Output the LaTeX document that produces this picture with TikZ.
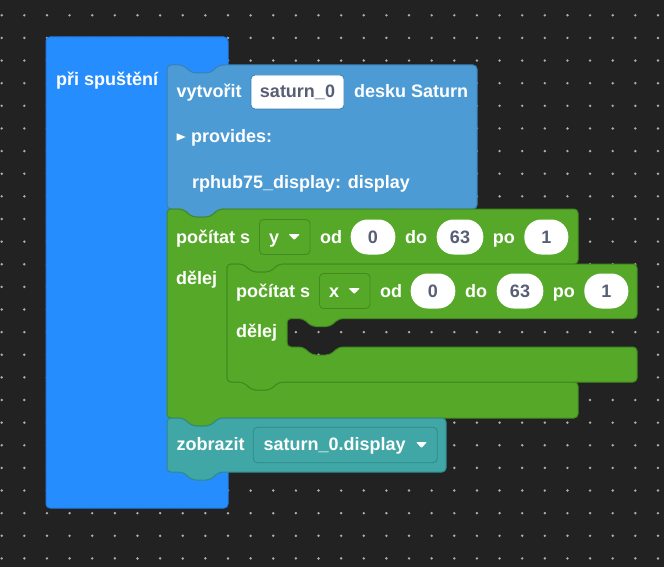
\documentclass[tikz,border=0pt]{standalone}
\usepackage{fontspec}
\setmainfont{Liberation Sans}
\definecolor{bg}{RGB}{34,34,34}
\definecolor{dotc}{RGB}{175,175,175}
\definecolor{hat}{RGB}{38,141,255}
\definecolor{hatb}{RGB}{32,124,228}
\definecolor{steel}{RGB}{76,155,212}
\definecolor{steelb}{RGB}{58,128,182}
\definecolor{grn}{RGB}{85,168,40}
\definecolor{grnb}{RGB}{66,138,30}
\definecolor{teal}{RGB}{64,166,166}
\definecolor{tealb}{RGB}{48,138,138}
\definecolor{fieldtxt}{RGB}{87,94,117}
\tikzset{
  lbl/.style={font=\bfseries\fontsize{18}{20}\selectfont, text=white, inner sep=0pt, anchor=base west},
  fld/.style={font=\bfseries\fontsize{18}{20}\selectfont, text=fieldtxt, inner sep=0pt, anchor=base},
  blk/.style={rounded corners=4pt, line width=1pt, line join=round},
  wbox/.style={draw=steelb, fill=white, rounded corners=4pt, inner sep=0pt, line width=0.8pt},
  oval/.style={fill=white, rounded corners=17pt, inner sep=0pt, minimum height=35pt},
  ddg/.style={draw=grnb, fill=grn, rounded corners=4pt, inner sep=0pt, line width=0.8pt, minimum width=50.5pt, minimum height=35pt},
  ddt/.style={draw=tealb, fill=teal, rounded corners=4pt, inner sep=0pt, line width=0.8pt, minimum width=184pt, minimum height=35.4pt},
  arr/.style={fill=white, rounded corners=1pt}
}
\newcommand\forrow[2]{%
  \node[lbl] (#1pocitat) at (176,243.5) {počítat s};
  \node[ddg] (#1dd) at (284.75,237) {};
  \node[lbl] (#1var) at (269,243.5) {#2};
  \fill[arr] (288.5,234) -- (300,234) -- (294.25,240) -- cycle;
  \node[lbl] (#1od) at (320,243.5) {od};
  \node[oval, minimum width=44.6pt] (#1oa) at (373,237) {};
  \node[fld] (#1ta) at (373,243.5) {0};
  \node[lbl] (#1do) at (405,243.5) {do};
  \node[oval, minimum width=46.6pt] (#1ob) at (460,237) {};
  \node[fld] (#1tb) at (460,243.5) {63};
  \node[lbl] (#1po) at (492.7,243.5) {po};
  \node[oval, minimum width=44pt] (#1oc) at (546.3,237) {};
  \node[fld] (#1tc) at (546.3,243.5) {1};
}
\begin{document}
\begin{tikzpicture}[x=1pt,y=-1pt]
\useasboundingbox (0,0) rectangle (664,567);
\fill[bg] (0,0) rectangle (664,567);
\foreach \i in {0,...,29} \foreach \j in {0,...,24}
  \fill[dotc] ({1.7+22.63*\i},{15.3+22.63*\j}) circle (1.35pt);

% hat block
\draw[blk, fill=hat, draw=hatb] (46,37) rectangle (228,508);
\node[lbl] (hatlbl) at (56,86) {při spuštění};

% create board block
\draw[blk, fill=steel, draw=steelb] (167,65) -- (183,65) -- (192,73) -- (210,73) -- (219,65) -- (477,65) -- (477,209) -- (219,209) -- (210,217) -- (192,217) -- (183,209) -- (167,209) -- cycle;
\node[lbl] (vyt) at (176.5,98) {vytvořit};
\node[wbox, minimum width=93pt, minimum height=34pt] (fbox) at (297.5,92) {};
\node[fld] (ftxt) at (297.5,98) {saturn\_0};
\node[lbl] (desku) at (354,98) {desku Saturn};
\fill[white] (176.7,133.3) -- (176.7,140.7) -- (185.7,137) -- cycle;
\node[lbl] (prov) at (191,142.5) {provides:};
\node[lbl] (rph) at (192,188.5) {rphub75\_display: display};

% outer loop
\draw[blk, fill=grn, draw=grnb] (167,209) -- (183,209) -- (192,217) -- (210,217) -- (219,209) -- (578,209) -- (578,264) -- (279,264) -- (270,272) -- (252,272) -- (243,264) -- (227,264) -- (227,382) -- (243,382) -- (252,390) -- (270,390) -- (279,382) -- (578,382) -- (578,418) -- (219,418) -- (210,426) -- (192,426) -- (183,418) -- (167,418) -- cycle;
\forrow{o}{y}
\node[lbl] (odelej) at (176,284.5) {dělej};

% inner loop
\draw[blk, fill=grn, draw=grnb] (227,264) -- (243,264) -- (252,272) -- (270,272) -- (279,264) -- (637,264) -- (637,318.5) -- (339,318.5) -- (330,326.5) -- (312,326.5) -- (303,318.5) -- (287,318.5) -- (287,347) -- (303,347) -- (312,355) -- (330,355) -- (339,347) -- (637,347) -- (637,382) -- (279,382) -- (270,390) -- (252,390) -- (243,382) -- (227,382) -- cycle;
\begin{scope}[shift={(60,54)}]
\forrow{i}{x}
\end{scope}
\node[lbl] (idelej) at (236,337.5) {dělej};

% show block
\draw[blk, fill=teal, draw=tealb] (167,418) -- (183,418) -- (192,426) -- (210,426) -- (219,418) -- (446,418) -- (446,472) -- (219,472) -- (210,480) -- (192,480) -- (183,472) -- (167,472) -- cycle;
\node[lbl] (zob) at (176.5,450.7) {zobrazit};
\node[ddt] (tdd) at (345.3,445) {};
\node[lbl] (tddtxt) at (263.3,450.7) {saturn\_0.display};
\fill[arr] (416,442) -- (427,442) -- (421.5,448) -- cycle;
\end{tikzpicture}
\end{document}
